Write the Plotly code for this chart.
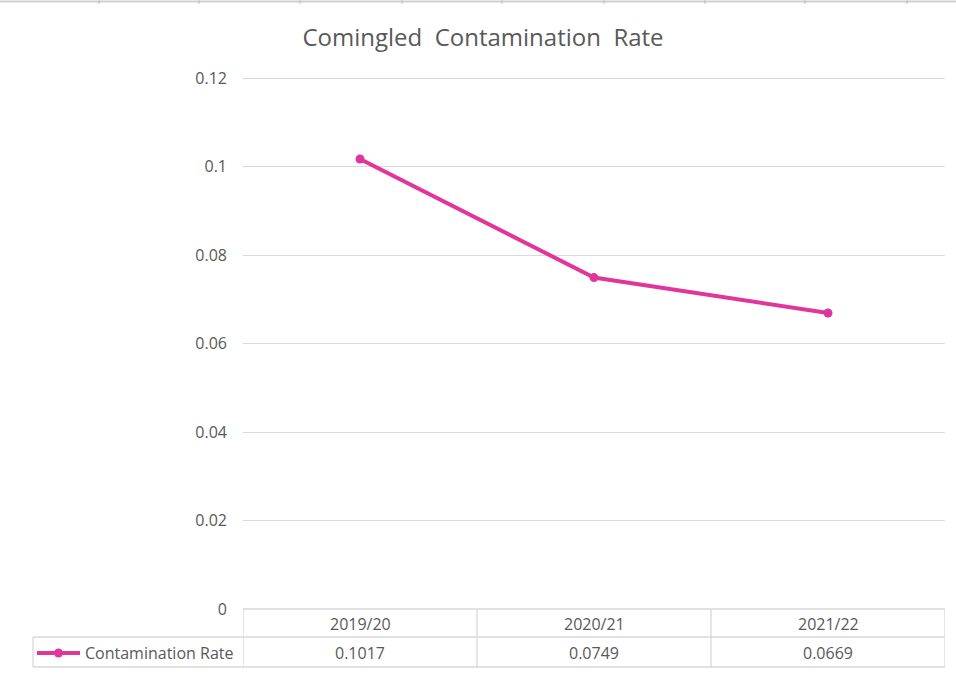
import plotly.graph_objects as go

categories = ["2019/20", "2020/21", "2021/22"]
rates = [0.1017, 0.0749, 0.0669]
series_name = "Contamination Rate"
title_text = "Comingled  Contamination  Rate"
y_ticks = [0, 0.02, 0.04, 0.06, 0.08, 0.1, 0.12]
y_tick_labels = ["0", "0.02", "0.04", "0.06", "0.08", "0.1", "0.12"]

W, H = 956, 676
L, R, T, B = 243, 945, 78, 609
PW, PH = R - L, B - T
YMIN, YMAX = 0, 0.12
PAD_TOP = 4  # px of extra room above the top gridline so it is drawn
T_EFF = T - PAD_TOP
PH_EFF = B - T_EFF

def px(xp):
    return (xp - L) / PW

def py(yp):
    return (B - yp) / PH_EFF

LINE_COLOR = "#E2359B"
TXT = "#595959"
GRID = "#d9d9d9"
FONT = "Open Sans"

fig = go.Figure()
fig.add_trace(go.Scatter(
    x=list(range(len(categories))), y=rates, mode="lines+markers",
    name=series_name,
    line=dict(color=LINE_COLOR, width=4),
    marker=dict(color=LINE_COLOR, size=9),
    showlegend=False,
))

shapes = []
row1_bot = py(637)
row2_bot = py(667)
left_x = px(33)
gl = dict(color=GRID, width=1.3)
# table lines
shapes.append(dict(type="line", xref="x", yref="paper", x0=-0.5, x1=len(categories) - 0.5, y0=0, y1=0, line=gl))
shapes.append(dict(type="line", xref="paper", yref="paper", x0=left_x, x1=1, y0=row1_bot, y1=row1_bot, line=gl))
shapes.append(dict(type="line", xref="paper", yref="paper", x0=left_x, x1=1, y0=row2_bot, y1=row2_bot, line=gl))
shapes.append(dict(type="line", xref="paper", yref="paper", x0=left_x, x1=left_x, y0=row1_bot, y1=row2_bot, line=gl))
for i in range(len(categories) + 1):
    shapes.append(dict(type="line", xref="x", yref="paper", x0=i - 0.5, x1=i - 0.5, y0=0, y1=row2_bot, line=gl))
# legend key in the table's left cell
ly = py(653)
shapes.append(dict(type="line", xref="paper", yref="paper", x0=px(37), x1=px(80), y0=ly, y1=ly,
                   line=dict(color=LINE_COLOR, width=4)))
shapes.append(dict(type="circle", xref="paper", yref="paper", xsizemode="pixel", ysizemode="pixel",
                   xanchor=px(58.5), yanchor=ly, x0=-4.5, x1=4.5, y0=-4.5, y1=4.5,
                   fillcolor=LINE_COLOR, line=dict(color=LINE_COLOR, width=0)))
# top spreadsheet-like border
shapes.append(dict(type="line", xref="paper", yref="paper", x0=px(0), x1=px(956), y0=py(1.5), y1=py(1.5), line=dict(color="#d0d0d0", width=2)))
for xp in [99, 199, 300, 402, 502, 604, 705, 805, 907]:
    shapes.append(dict(type="line", xref="paper", yref="paper", x0=px(xp), x1=px(xp), y0=py(0), y1=py(4), line=dict(color="#c0c0c0", width=1)))

annotations = []
for i, c in enumerate(categories):
    annotations.append(dict(x=i, y=py(624), xref="x", yref="paper", text=c, showarrow=False,
                            font=dict(family=FONT, size=16, color=TXT), xanchor="center", yanchor="middle"))
    annotations.append(dict(x=i, y=py(653), xref="x", yref="paper", text=f"{rates[i]:.4f}", showarrow=False,
                            font=dict(family=FONT, size=16, color=TXT), xanchor="center", yanchor="middle"))
annotations.append(dict(x=px(83), y=py(653), xref="paper", yref="paper", text=series_name, showarrow=False,
                        font=dict(family=FONT, size=16, color=TXT), xanchor="left", yanchor="middle"))

fig.update_layout(
    width=W, height=H,
    margin=dict(l=L, r=W - R, t=T_EFF, b=H - B),
    paper_bgcolor="white", plot_bgcolor="white",
    showlegend=False,
    title=dict(text=title_text, x=483 / W, xanchor="center", y=1 - 38 / H, yanchor="middle",
               font=dict(family=FONT, size=24, color=TXT)),
    xaxis=dict(range=[-0.5, len(categories) - 0.5], showticklabels=False, showgrid=False,
               zeroline=False, showline=False, ticks=""),
    yaxis=dict(range=[YMIN, YMAX * PH_EFF / PH], tickvals=y_ticks, ticktext=y_tick_labels, showgrid=True,
               gridcolor=GRID, gridwidth=1.3, zeroline=False, showline=False,
               tickfont=dict(family=FONT, size=16, color=TXT), ticklabelstandoff=15),
    shapes=shapes, annotations=annotations,
)

fig.write_html("out.html", config={"displayModeBar": False},
               post_script="document.body.style.margin='0';document.body.style.padding='0';")
